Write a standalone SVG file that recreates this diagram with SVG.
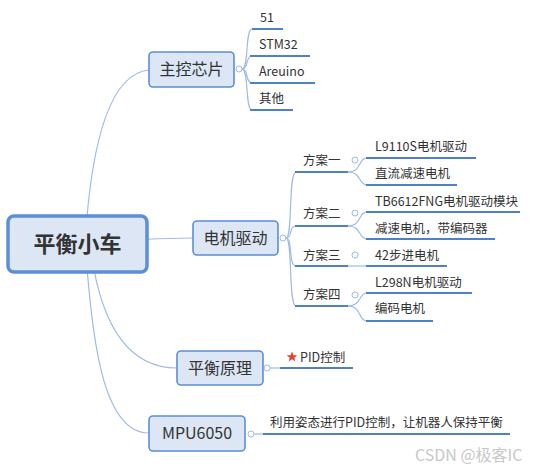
<svg xmlns="http://www.w3.org/2000/svg" width="554" height="473" viewBox="0 0 554 473">
<style>
.conn{fill:none;stroke:#9fbbe6;stroke-width:1.2}
.ul{fill:none;stroke:#4f81c7;stroke-width:2}
.node{fill:#dce6f4;stroke:#5b8fd6;stroke-width:1.6}
.main{fill:#dce6f4;stroke:#5b8fd6;stroke-width:3.5}
.t{font-family:"Noto Sans CJK SC","Noto Sans",sans-serif;fill:#333}
.nt{font-size:16px;text-anchor:middle}
.lt{font-size:12.5px}
.btn{fill:#fff;stroke:#9fbbe6;stroke-width:1}
</style>
<rect width="554" height="473" fill="#fff"/>
<g id="connectors">
<path class="conn" d="M85,244 Q95,75 149,70"/>
<path class="conn" d="M77,244 Q150,238 193,238"/>
<path class="conn" d="M90,244 Q105,368 177,368"/>
<path class="conn" d="M85,244 C92,330 100,433 149,433"/>
<!-- 主控芯片 children -->
<path class="conn" d="M242,69 C249,69 245,29 252,29"/>
<path class="conn" d="M242,69 C249,69 245,56 252,56"/>
<path class="conn" d="M242,69 C249,69 245,83 252,83"/>
<path class="conn" d="M242,69 C249,69 245,110 252,110"/>
<!-- 电机驱动 children -->
<path class="conn" d="M286,238 C293,238 288,172 296,172"/>
<path class="conn" d="M286,238 C293,238 288,226 296,226"/>
<path class="conn" d="M286,238 C293,238 288,266 296,266"/>
<path class="conn" d="M286,238 C293,238 288,306 296,306"/>
<!-- 方案 children -->
<path class="conn" d="M348,172 C362,172 358,158 367,158"/>
<path class="conn" d="M348,172 C362,172 358,185 367,185"/>
<path class="conn" d="M348,226 C362,226 358,212 367,212"/>
<path class="conn" d="M348,226 C362,226 358,239 367,239"/>
<path class="conn" d="M348,266 L367,266"/>
<path class="conn" d="M348,306 C362,306 358,293 367,293"/>
<path class="conn" d="M348,306 C362,306 358,321 367,321"/>
<path class="conn" d="M270,368 L280,368"/>
<path class="conn" d="M254,434 L263,434"/>
</g>
<g id="n-root">
<rect class="main" x="8" y="216" width="139" height="56" rx="6"/>
<text class="t" x="77.5" y="252" font-size="22" font-weight="bold" text-anchor="middle">平衡小车</text>
</g>
<g id="n-mcu">
<rect class="node" x="149" y="52" width="85" height="35" rx="4"/>
<text class="t nt" x="191.5" y="75">主控芯片</text>
<circle class="btn" cx="239" cy="69" r="3"/>
</g>
<g id="n-51"><text class="t lt" x="260" y="22">51</text><line class="ul" x1="252" y1="29" x2="283" y2="29"/></g>
<g id="n-stm32"><text class="t lt" x="259" y="49">STM32</text><line class="ul" x1="250" y1="56" x2="310" y2="56"/></g>
<g id="n-areuino"><text class="t lt" x="259" y="76">Areuino</text><line class="ul" x1="250" y1="83" x2="315" y2="83"/></g>
<g id="n-other"><text class="t lt" x="259" y="103">其他</text><line class="ul" x1="250" y1="110" x2="293" y2="110"/></g>
<g id="n-drive">
<rect class="node" x="193" y="221" width="85" height="34" rx="4"/>
<text class="t nt" x="235.5" y="243.5">电机驱动</text>
<circle class="btn" cx="283" cy="238" r="3"/>
</g>
<g id="n-plan1"><text class="t lt" x="303" y="164.5">方案一</text><line class="ul" x1="295" y1="172" x2="348" y2="172"/><circle class="btn" cx="355" cy="160" r="3"/></g>
<g id="n-plan2"><text class="t lt" x="303" y="217.5">方案二</text><line class="ul" x1="295" y1="226" x2="348" y2="226"/><circle class="btn" cx="355" cy="213" r="3"/></g>
<g id="n-plan3"><text class="t lt" x="303" y="259.5">方案三</text><line class="ul" x1="295" y1="266" x2="348" y2="266"/><circle class="btn" cx="355" cy="255" r="3"/></g>
<g id="n-plan4"><text class="t lt" x="303" y="298.5">方案四</text><line class="ul" x1="295" y1="306" x2="348" y2="306"/><circle class="btn" cx="355" cy="295" r="3"/></g>
<g id="n-l9110"><text class="t lt" x="375" y="150.5">L9110S电机驱动</text><line class="ul" x1="366" y1="158" x2="476" y2="158"/></g>
<g id="n-dc"><text class="t lt" x="375" y="177.5">直流减速电机</text><line class="ul" x1="366" y1="185" x2="457" y2="185"/></g>
<g id="n-tb6612"><text class="t lt" x="375" y="205.5">TB6612FNG电机驱动模块</text><line class="ul" x1="366" y1="212" x2="520" y2="212"/></g>
<g id="n-enc"><text class="t lt" x="375" y="232.5">减速电机，带编码器</text><line class="ul" x1="366" y1="239" x2="495" y2="239"/></g>
<g id="n-step"><text class="t lt" x="375" y="259.5">42步进电机</text><line class="ul" x1="366" y1="266" x2="447" y2="266"/></g>
<g id="n-l298"><text class="t lt" x="375" y="286.5">L298N电机驱动</text><line class="ul" x1="366" y1="293" x2="472" y2="293"/></g>
<g id="n-encm"><text class="t lt" x="375" y="312.5">编码电机</text><line class="ul" x1="366" y1="321" x2="433" y2="321"/></g>
<g id="n-balance">
<rect class="node" x="177" y="351" width="86" height="34" rx="4"/>
<text class="t nt" x="220" y="373.5">平衡原理</text>
<circle class="btn" cx="267" cy="368" r="3"/>
</g>
<g id="n-pid">
<polygon fill="#e0433a" points="292,351.5 293.5,355.2 297.3,355.3 294.3,357.7 295.3,361.4 292,359.2 288.7,361.4 289.7,357.7 286.7,355.3 290.5,355.2"/>
<text class="t lt" x="300" y="361.5">PID控制</text>
<line class="ul" x1="280" y1="368" x2="353" y2="368"/>
</g>
<g id="n-mpu">
<rect class="node" x="149" y="416" width="96" height="35" rx="4"/>
<text class="t nt" x="197" y="439">MPU6050</text>
<circle class="btn" cx="251" cy="434" r="3"/>
</g>
<g id="n-mpu-desc"><text class="t lt" x="270" y="426.5">利用姿态进行PID控制，让机器人保持平衡</text><line class="ul" x1="263" y1="434" x2="510" y2="434"/></g>
<text x="415" y="461" font-family="'Noto Sans CJK SC','Noto Sans',sans-serif" font-size="16" fill="#c8c8c8">CSDN @极客IC</text>
</svg>
